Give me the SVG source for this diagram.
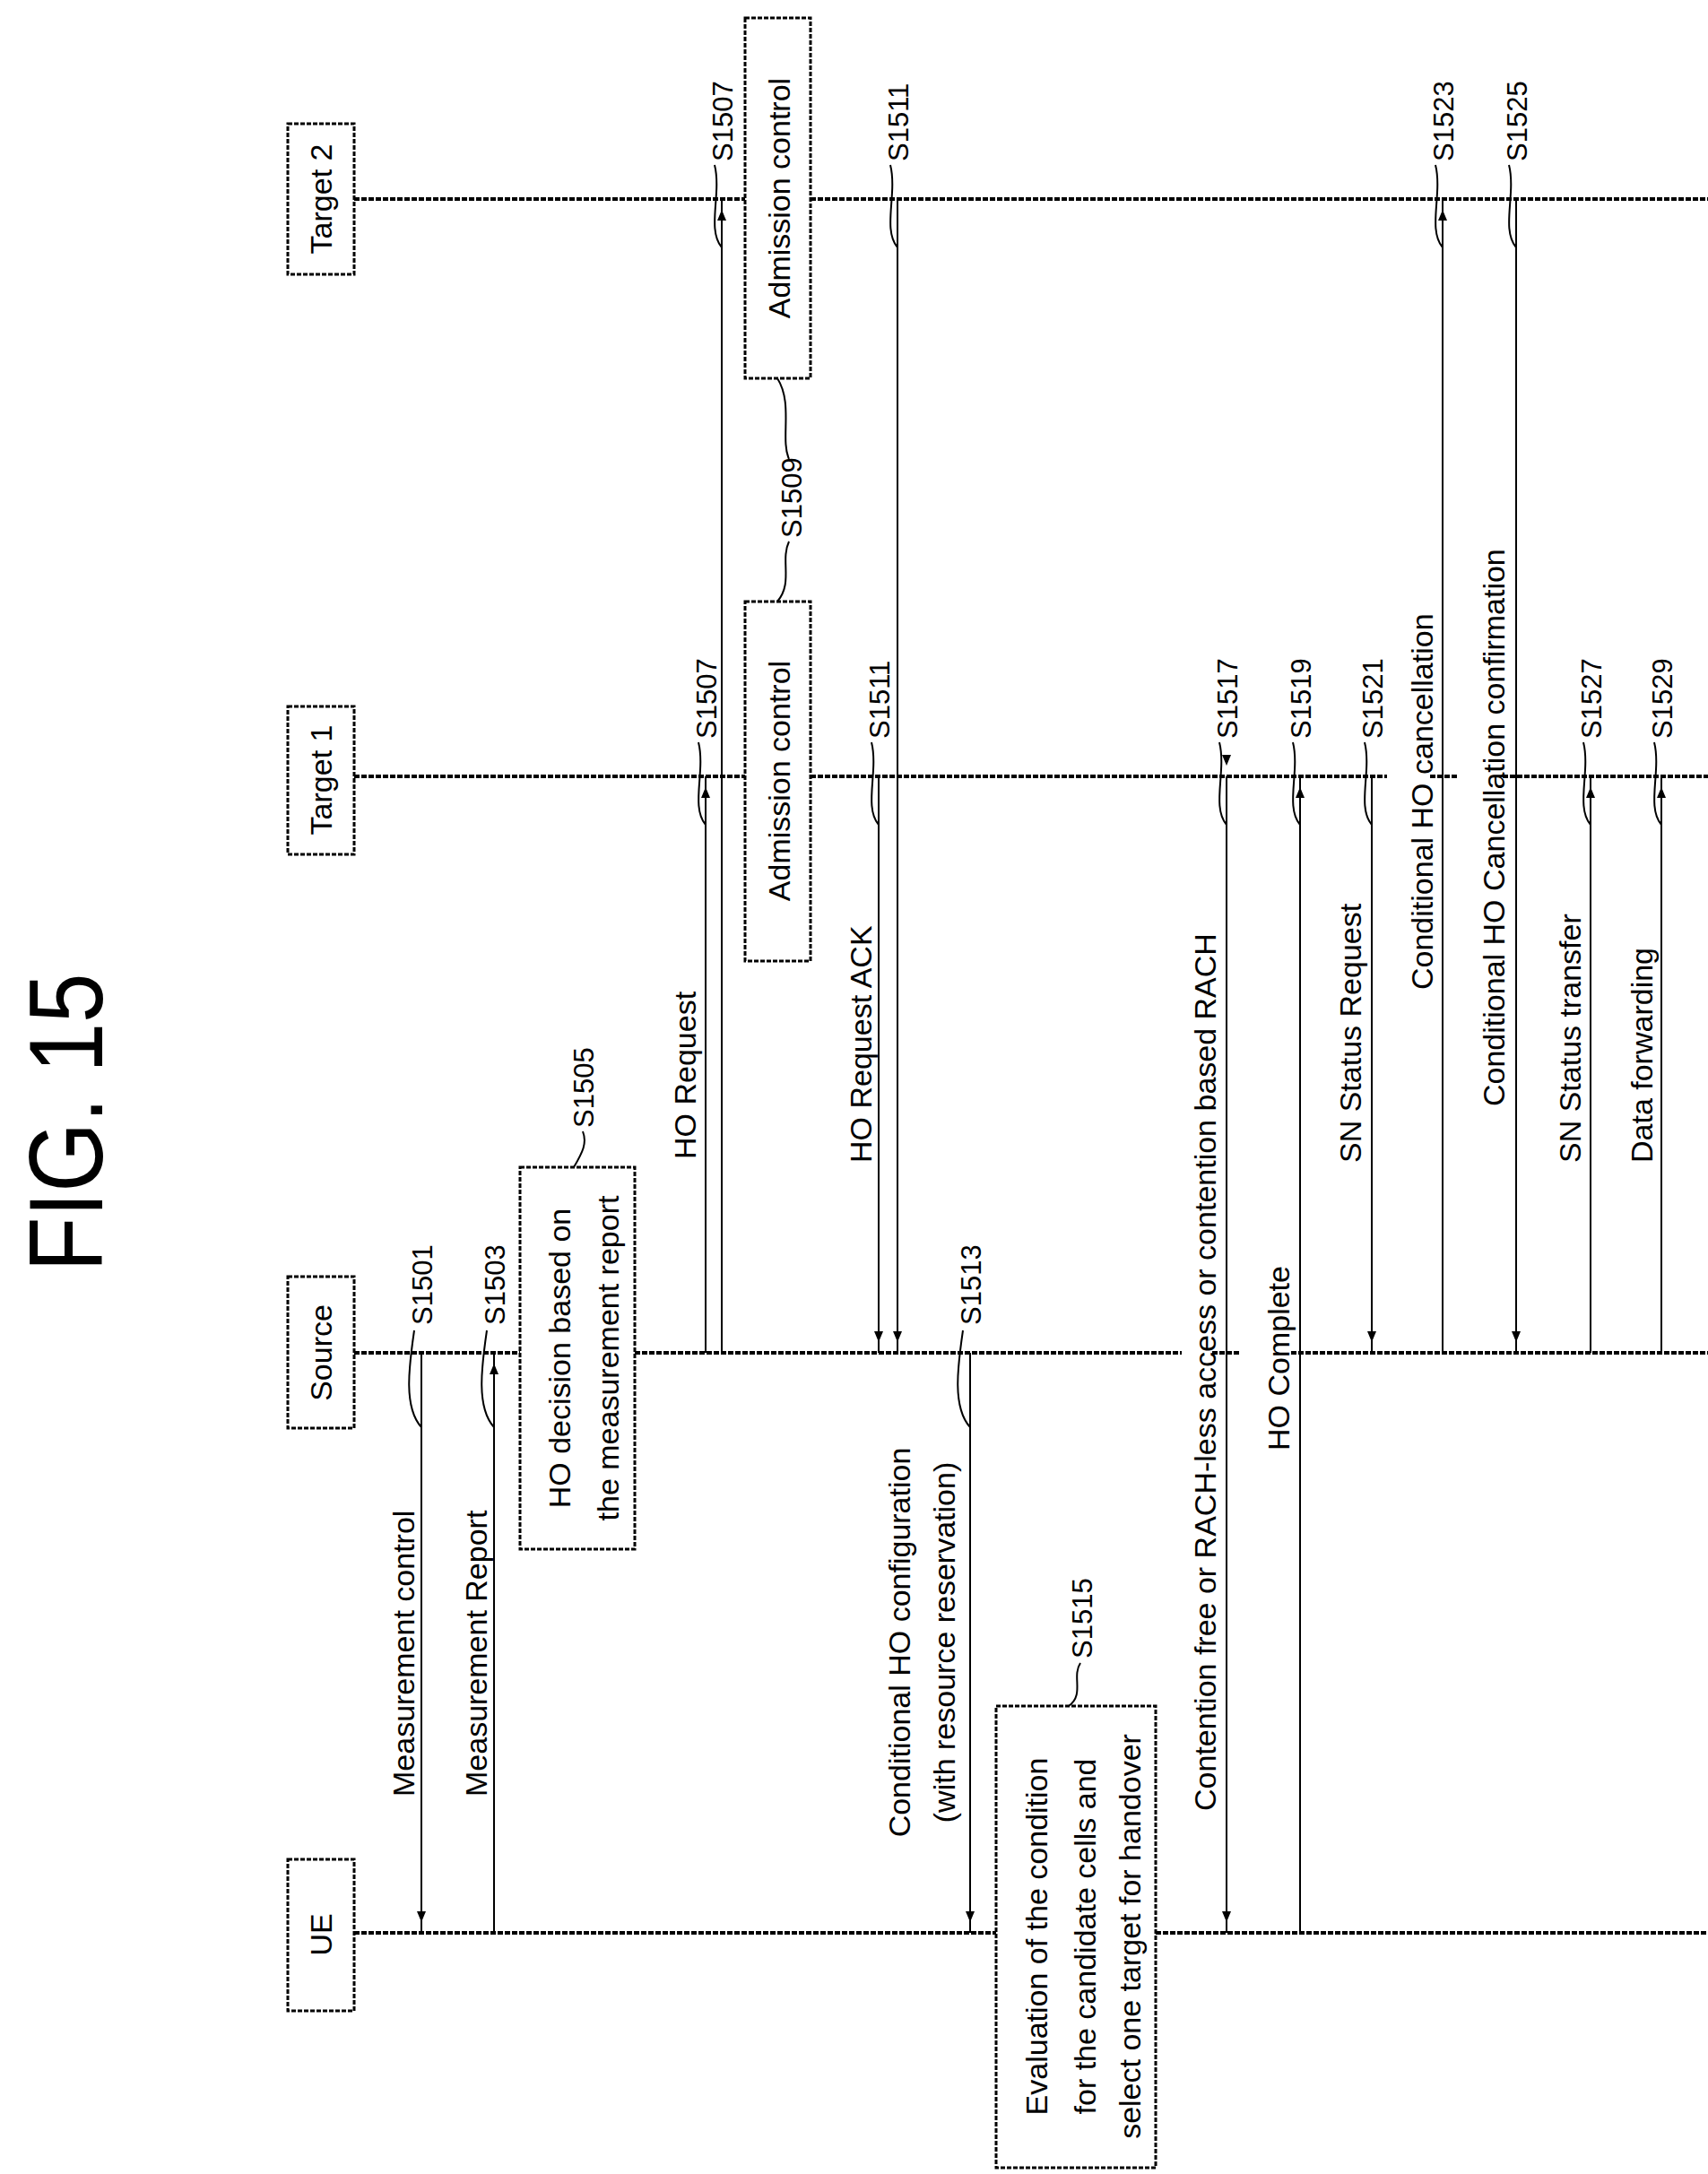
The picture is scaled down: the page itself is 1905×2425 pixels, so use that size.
<svg xmlns="http://www.w3.org/2000/svg" width="1905" height="2425" viewBox="0 0 1905 2425">
<style>
text{font-family:"Liberation Sans","DejaVu Sans",sans-serif;fill:#000}
.m{font-size:34px}
.s{font-size:31px}
.life{stroke:#000;stroke-width:4;stroke-dasharray:6 2;fill:none}
.msg{stroke:#000;stroke-width:2;fill:none}
.box{fill:#fff;stroke:#000;stroke-width:3;stroke-dasharray:5 2}
.ld{stroke:#000;stroke-width:2;fill:none}
</style>
<defs>
<marker id="ah" markerUnits="userSpaceOnUse" markerWidth="40" markerHeight="12" refX="24" refY="5" orient="auto">
<path d="M0,0 L12,5 L0,10 Z" fill="#000"/>
</marker>
</defs>
<rect width="1905" height="2425" fill="#fff"/>
<text transform="translate(114,1252) rotate(-90)" text-anchor="middle" font-size="116" textLength="333" lengthAdjust="spacingAndGlyphs">FIG. 15</text>

<g id="lifelines">
<path class="life" d="M395,222H831M904,222H1905"/>
<path class="life" d="M395,866H831M904,866H1547M1595,866H1626M1676,866H1905"/>
<path class="life" d="M395,1509H580M708,1509H1318M1352,1509H1383M1440,1509H1905"/>
<path class="life" d="M395,2156H1111M1289,2156H1905"/>
</g>

<g id="ue"><rect class="box" x="321" y="2074" width="74" height="169"/><text class="m" transform="translate(370,2158) rotate(-90)" text-anchor="middle">UE</text></g>
<g id="source"><rect class="box" x="321" y="1424" width="74" height="169"/><text class="m" transform="translate(370,1509) rotate(-90)" text-anchor="middle">Source</text></g>
<g id="target1"><rect class="box" x="321" y="788" width="74" height="165"/><text class="m" transform="translate(370,870) rotate(-90)" text-anchor="middle">Target 1</text></g>
<g id="target2"><rect class="box" x="321" y="138" width="74" height="168"/><text class="m" transform="translate(370,222) rotate(-90)" text-anchor="middle">Target 2</text></g>

<g id="connectors">
<line class="msg" x1="470" y1="1509" x2="470" y2="2156" marker-end="url(#ah)"/>
<line class="msg" x1="551" y1="2156" x2="551" y2="1509" marker-end="url(#ah)"/>
<line class="msg" x1="787" y1="1509" x2="787" y2="866" marker-end="url(#ah)"/>
<line class="msg" x1="805" y1="1509" x2="805" y2="222" marker-end="url(#ah)"/>
<line class="msg" x1="980" y1="866" x2="980" y2="1509" marker-end="url(#ah)"/>
<line class="msg" x1="1001" y1="222" x2="1001" y2="1509" marker-end="url(#ah)"/>
<line class="msg" x1="1082" y1="1509" x2="1082" y2="2156" marker-end="url(#ah)"/>
<line class="msg" x1="1368" y1="866" x2="1368" y2="2156" marker-start="url(#ah)" marker-end="url(#ah)"/>
<line class="msg" x1="1450" y1="2156" x2="1450" y2="866" marker-end="url(#ah)"/>
<line class="msg" x1="1530" y1="866" x2="1530" y2="1509" marker-end="url(#ah)"/>
<line class="msg" x1="1609" y1="1509" x2="1609" y2="222" marker-end="url(#ah)"/>
<line class="msg" x1="1691" y1="222" x2="1691" y2="1509" marker-end="url(#ah)"/>
<line class="msg" x1="1774" y1="1509" x2="1774" y2="866" marker-end="url(#ah)"/>
<line class="msg" x1="1853" y1="1509" x2="1853" y2="866" marker-end="url(#ah)"/>
</g>

<g id="hodecision"><rect class="box" x="580" y="1302" width="128" height="426"/>
<text class="m" transform="translate(636,1515) rotate(-90)" text-anchor="middle">HO decision based on</text>
<text class="m" transform="translate(690,1515) rotate(-90)" text-anchor="middle">the measurement report</text></g>
<g id="adm1"><rect class="box" x="831" y="671" width="73" height="401"/><text class="m" transform="translate(881,871) rotate(-90)" text-anchor="middle">Admission control</text></g>
<g id="adm2"><rect class="box" x="831" y="20" width="73" height="402"/><text class="m" transform="translate(881,221) rotate(-90)" text-anchor="middle">Admission control</text></g>
<g id="evaluation"><rect class="box" x="1111" y="1903" width="178" height="515"/>
<text class="m" transform="translate(1168,2160) rotate(-90)" text-anchor="middle">Evaluation of the condition</text>
<text class="m" transform="translate(1222,2160) rotate(-90)" text-anchor="middle">for the candidate cells and</text>
<text class="m" transform="translate(1272,2160) rotate(-90)" text-anchor="middle">select one target for handover</text></g>

<g id="labels">
<text class="m" transform="translate(462,2004) rotate(-90)">Measurement control</text>
<text class="m" transform="translate(543,2004) rotate(-90)">Measurement Report</text>
<text class="m" transform="translate(776,1293) rotate(-90)">HO Request</text>
<text class="m" transform="translate(972,1297) rotate(-90)">HO Request ACK</text>
<text class="m" transform="translate(1015,1832) rotate(-90)" text-anchor="middle">Conditional HO configuration</text>
<text class="m" transform="translate(1065,1832) rotate(-90)" text-anchor="middle">(with resource reservation)</text>
<text class="m" transform="translate(1356,2020) rotate(-90)">Contention free or RACH-less access or contention based RACH</text>
<text class="m" transform="translate(1438,1618) rotate(-90)">HO Complete</text>
<text class="m" transform="translate(1518,1297) rotate(-90)">SN Status Request</text>
<text class="m" transform="translate(1598,1104) rotate(-90)">Conditional HO cancellation</text>
<text class="m" transform="translate(1678,1234) rotate(-90)">Conditional HO Cancellation confirmation</text>
<text class="m" transform="translate(1763,1297) rotate(-90)">SN Status transfer</text>
<text class="m" transform="translate(1843,1297) rotate(-90)">Data forwarding</text>
</g>

<g id="steps">
<path class="ld" d="M462,1484 C456,1525 450,1570 470,1592"/><text class="s" transform="translate(482,1478) rotate(-90)">S1501</text>
<path class="ld" d="M543,1484 C537,1525 531,1570 551,1592"/><text class="s" transform="translate(563,1478) rotate(-90)">S1503</text>
<path class="ld" d="M1074,1484 C1068,1525 1062,1570 1082,1592"/><text class="s" transform="translate(1094,1478) rotate(-90)">S1513</text>
<path class="ld" d="M640,1302 C650,1285 655,1275 650,1262"/><text class="s" transform="translate(662,1258) rotate(-90)">S1505</text>
<path class="ld" d="M867,671 C885,650 870,625 880,604"/><path class="ld" d="M880,512 C870,490 885,450 867,422"/><text class="s" transform="translate(894,600) rotate(-90)">S1509</text>
<path class="ld" d="M1192,1903 C1210,1890 1195,1870 1205,1855"/><text class="s" transform="translate(1218,1850) rotate(-90)">S1515</text>
<g id="t1steps">
<path class="ld" d="M779,828 C787,860 770,900 787,920"/><text class="s" transform="translate(799,824) rotate(-90)">S1507</text>
<path class="ld" d="M972,828 C980,860 963,900 980,920"/><text class="s" transform="translate(992,824) rotate(-90)">S1511</text>
<path class="ld" d="M1360,828 C1368,860 1351,900 1368,920"/><text class="s" transform="translate(1380,824) rotate(-90)">S1517</text>
<path class="ld" d="M1442,828 C1450,860 1433,900 1450,920"/><text class="s" transform="translate(1462,824) rotate(-90)">S1519</text>
<path class="ld" d="M1522,828 C1530,860 1513,900 1530,920"/><text class="s" transform="translate(1542,824) rotate(-90)">S1521</text>
<path class="ld" d="M1766,828 C1774,860 1757,900 1774,920"/><text class="s" transform="translate(1786,824) rotate(-90)">S1527</text>
<path class="ld" d="M1845,828 C1853,860 1836,900 1853,920"/><text class="s" transform="translate(1865,824) rotate(-90)">S1529</text>
</g>
<g id="t2steps">
<path class="ld" d="M797,184 C805,216 788,256 805,276"/><text class="s" transform="translate(817,180) rotate(-90)">S1507</text>
<path class="ld" d="M993,184 C1001,216 984,256 1001,276"/><text class="s" transform="translate(1013,180) rotate(-90)">S1511</text>
<path class="ld" d="M1601,184 C1609,216 1592,256 1609,276"/><text class="s" transform="translate(1621,180) rotate(-90)">S1523</text>
<path class="ld" d="M1683,184 C1691,216 1674,256 1691,276"/><text class="s" transform="translate(1703,180) rotate(-90)">S1525</text>
</g>
</g>
</svg>
